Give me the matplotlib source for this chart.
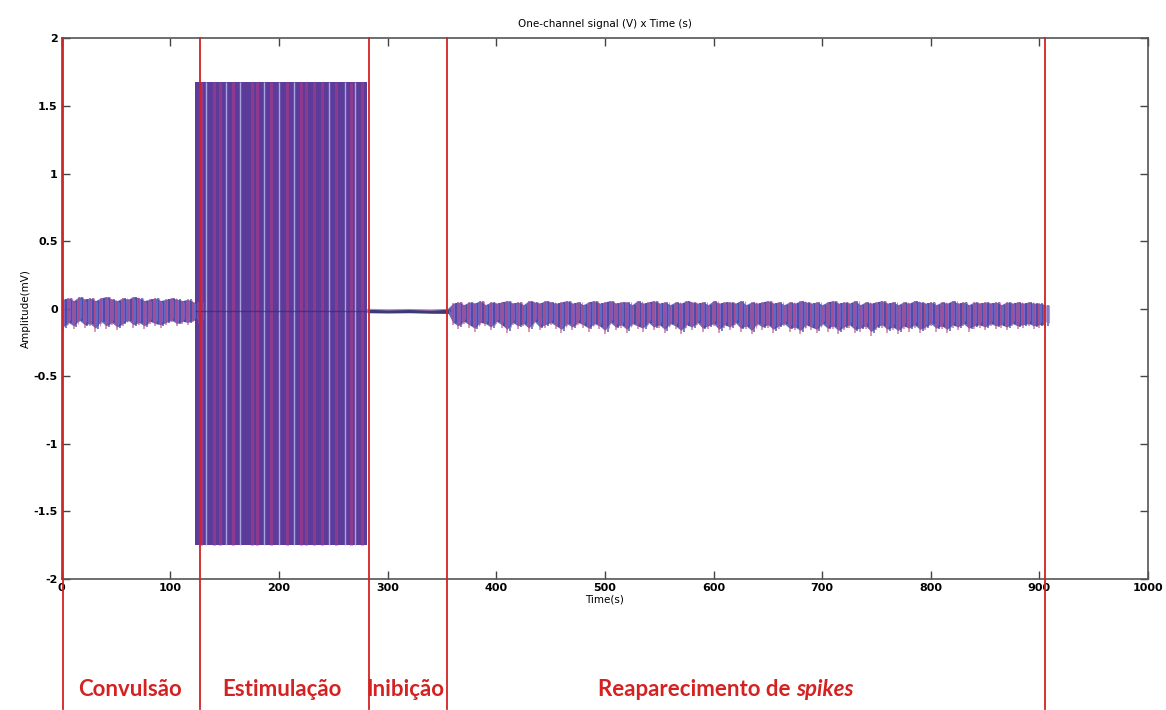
import matplotlib

matplotlib.use("Agg")
import matplotlib.pyplot as plt
import matplotlib.transforms as mtransforms
import numpy as np

# --- data -------------------------------------------------------------------
# convulsion segment, sampled every 5 s (envelope of the trace, mV)
seg1_t = np.arange(1, 127, 5)
seg1_hi = [0.07, 0.08, 0.06, 0.09, 0.07, 0.08, 0.06, 0.08, 0.09, 0.07, 0.06, 0.08, 0.07,
           0.09, 0.08, 0.06, 0.07, 0.08, 0.06, 0.07, 0.08, 0.07, 0.06, 0.07, 0.05, 0.05]
seg1_lo = [-0.16, -0.12, -0.15, -0.10, -0.14, -0.13, -0.17, -0.11, -0.15, -0.12, -0.16, -0.13, -0.10,
           -0.14, -0.12, -0.15, -0.11, -0.13, -0.14, -0.12, -0.10, -0.13, -0.11, -0.12, -0.10, -0.11]

# stimulation block
stim_t = [123, 281]
stim_hi = 1.68
stim_lo = -1.75
stim_light = [133, 151, 164, 186, 200, 214, 246, 261, 270]
stim_magenta = [128, 140, 146, 158, 175, 180, 193, 207, 220, 225, 232, 240, 252, 266, 276]

# inhibition segment (almost flat)
inib_t = [281, 300, 320, 340, 356]
inib_hi = [-0.005, -0.008, -0.006, -0.009, -0.005]
inib_lo = [-0.030, -0.032, -0.030, -0.034, -0.035]

# spikes reappearing, sampled every 5 s
seg4_t = np.arange(355, 906, 5)
seg4_hi = [0.00, 0.04, 0.05, 0.03, 0.05, 0.04, 0.06, 0.03, 0.05, 0.04,
           0.05, 0.06, 0.04, 0.05, 0.03, 0.06, 0.05, 0.04, 0.06, 0.05,
           0.04, 0.05, 0.06, 0.04, 0.05, 0.03, 0.05, 0.06, 0.04, 0.05,
           0.06, 0.04, 0.05, 0.05, 0.03, 0.06, 0.04, 0.05, 0.06, 0.04,
           0.05, 0.03, 0.05, 0.04, 0.06, 0.05, 0.04, 0.05, 0.03, 0.06,
           0.04, 0.05, 0.05, 0.04, 0.06, 0.03, 0.05, 0.04, 0.05, 0.06,
           0.04, 0.05, 0.03, 0.05, 0.04, 0.06, 0.05, 0.04, 0.05, 0.03,
           0.05, 0.06, 0.04, 0.05, 0.04, 0.06, 0.03, 0.05, 0.04, 0.05,
           0.06, 0.04, 0.05, 0.03, 0.05, 0.04, 0.06, 0.05, 0.04, 0.05,
           0.03, 0.05, 0.04, 0.06, 0.04, 0.05, 0.03, 0.05, 0.04, 0.05,
           0.04, 0.05, 0.03, 0.05, 0.04, 0.05, 0.04, 0.05, 0.04, 0.04, 0.03]
seg4_lo = [-0.03, -0.12, -0.15, -0.11, -0.14, -0.17, -0.12, -0.13, -0.16, -0.11,
           -0.14, -0.18, -0.12, -0.15, -0.13, -0.17, -0.11, -0.16, -0.14, -0.12,
           -0.15, -0.18, -0.13, -0.16, -0.12, -0.14, -0.17, -0.13, -0.15, -0.19,
           -0.12, -0.16, -0.14, -0.18, -0.13, -0.15, -0.17, -0.12, -0.16, -0.14,
           -0.18, -0.13, -0.15, -0.19, -0.14, -0.16, -0.12, -0.17, -0.15, -0.13,
           -0.18, -0.14, -0.16, -0.12, -0.17, -0.15, -0.19, -0.13, -0.16, -0.14,
           -0.18, -0.15, -0.13, -0.17, -0.16, -0.19, -0.14, -0.16, -0.18, -0.13,
           -0.17, -0.15, -0.19, -0.16, -0.14, -0.18, -0.17, -0.15, -0.20, -0.16,
           -0.14, -0.18, -0.16, -0.19, -0.15, -0.17, -0.14, -0.18, -0.16, -0.13,
           -0.17, -0.15, -0.18, -0.14, -0.16, -0.13, -0.17, -0.15, -0.14, -0.16,
           -0.13, -0.15, -0.14, -0.16, -0.13, -0.15, -0.14, -0.13, -0.15, -0.14, -0.14]

# phase boundaries (s) and labels
phase_lines = [1, 127, 283, 355, 905]
phase_labels = ["Convulsão", "Estimulação", "Inibição"]
phase_label_x = [130, 282, 405]  # figure pixels

BLUE = "#4a50b4"
MAGENTA = "#c2407e"
PURPLE = "#5c3c9a"
RED = "#d42222"
LABEL_FONT = ["Lato", "Roboto", "DejaVu Sans"]

fig = plt.figure(figsize=(11.66, 7.10), dpi=100)
ax = fig.add_axes([0.053, 0.1845, 0.9316, 0.7615])

# noisy segments
for t, lo, hi in [(seg1_t, seg1_lo, seg1_hi), (seg4_t, seg4_lo, seg4_hi)]:
    lo = np.array(lo)
    hi = np.array(hi)
    ax.fill_between(t, lo * 0.85, hi, color=BLUE, lw=0, alpha=0.85, zorder=2)
    ax.vlines(t, lo, hi, color=MAGENTA, lw=1.1, alpha=0.7, zorder=3)
    ax.vlines(t + 2.5, lo * 0.9, hi, color="#3c3f9c", lw=1.1, alpha=0.85, zorder=3)
    ax.vlines(t + 1.25, lo * 0.7, hi * 0.8, color="#8a64d0", lw=0.8, alpha=0.7, zorder=3)
    ax.vlines(t + 3.75, lo * 0.75, hi * 0.95, color="#b04a90", lw=0.8, alpha=0.6, zorder=3)

# stimulation block
ax.fill_between(stim_t, stim_lo, stim_hi, color=PURPLE, lw=0, zorder=2)
ax.vlines(stim_magenta, stim_lo, stim_hi, color="#9a3a8e", lw=2.2, alpha=0.8, zorder=3)
ax.vlines(stim_light, stim_lo, stim_hi, color="#b6b0ea", lw=1.0, alpha=0.9, zorder=3)
ax.hlines(-0.02, stim_t[0], stim_t[1], color="#2a2a6a", lw=1.0, alpha=0.6, zorder=4)

# inhibition
ax.fill_between(inib_t, inib_lo, inib_hi, color="#3a3a7a", lw=0, zorder=2)
ax.plot(inib_t, inib_hi, color=MAGENTA, lw=0.8, alpha=0.7, zorder=3)

ax.set_xlim(0, 1000)
ax.set_ylim(-2, 2)
ax.set_xticks(np.arange(0, 1001, 100))
ax.set_yticks(np.arange(-2, 2.01, 0.5))
ax.set_yticklabels(["-2", "-1.5", "-1", "-0.5", "0", "0.5", "1", "1.5", "2"])
ax.tick_params(direction="in", top=True, right=True, length=6, width=1,
               labelsize=8, color="#444444", pad=3)
for lab in ax.get_xticklabels() + ax.get_yticklabels():
    lab.set_fontweight("bold")
for sp in ax.spines.values():
    sp.set_color("#555555")
    sp.set_linewidth(1.2)

ax.set_title("One-channel signal (V) x Time (s)", fontsize=7.5, pad=8)
ax.set_xlabel("Time(s)", fontsize=7.5, labelpad=1)
ax.set_ylabel("Amplitude(mV)", fontsize=7.5, labelpad=2)

# red phase separators running below the axes
trans = mtransforms.blended_transform_factory(ax.transData, ax.transAxes)
for x in phase_lines:
    ax.plot([x, x], [-0.24, 1.0], color=RED, lw=1.3, transform=trans,
            clip_on=False, zorder=5)

W, H = fig.get_size_inches() * fig.dpi
label_y = 1 - 690 / H
font = dict(fontsize=16, fontweight="bold", color=RED, family=LABEL_FONT)
for lab, px in zip(phase_labels, phase_label_x):
    fig.text(px / W, label_y, lab, ha="center", va="center", **font)
t1 = fig.text(598 / W, label_y, "Reaparecimento de ", ha="left", va="center", **font)
ax.annotate("spikes", xy=(1, 0.5), xycoords=t1, ha="left", va="center",
            fontstyle="italic", annotation_clip=False, **font)

fig.savefig("out.png", dpi=100)
